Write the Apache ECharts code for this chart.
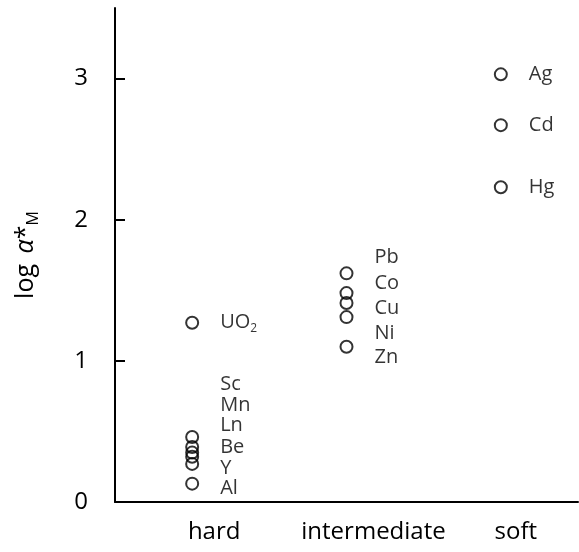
<!DOCTYPE html>
<html>
<head>
<meta charset="utf-8">
<script src="https://cdn.jsdelivr.net/npm/echarts@6/dist/echarts.min.js"></script>
<style>
  html, body { margin: 0; padding: 0; background: #fff; }
  #chart { width: 579px; height: 552px; }
</style>
</head>
<body>
<div id="chart"></div>
<script>
// Metal ion classes on the x axis
const categories = ['hard', 'intermediate', 'soft'];

// log α*M per metal, grouped by class
const hardNames = ['UO2', 'Sc', 'Mn', 'Ln', 'Be', 'Y', 'Al'];
const hardValues = [1.27, 0.46, 0.39, 0.35, 0.32, 0.27, 0.13];

const intermediateNames = ['Pb', 'Co', 'Cu', 'Ni', 'Zn'];
const intermediateValues = [1.62, 1.48, 1.41, 1.31, 1.10];

const softNames = ['Ag', 'Cd', 'Hg'];
const softValues = [3.03, 2.67, 2.23];

const yTickLabels = [0, 1, 2, 3];

// Vertical nudges (px) so crowded name labels stack into a readable column
const labelNudge = {
  Sc: -53, Mn: -42, Ln: -27, Be: -10, Y: 4, Al: 5,
  Pb: -16, Co: -10, Cu: 5, Ni: 16, Zn: 11
};
// Horizontal shift (px) of each class caption under the axis
const captionShift = { hard: 22, intermediate: 27, soft: 15 };

const FONT = '"Open Sans", "Noto Sans", sans-serif';
const INK = '#000';

function groupPoints(catIndex, names, values) {
  return names.map((name, i) => ({
    name: name,
    value: [catIndex, values[i]],
    label: { offset: [0, labelNudge[name] || 0] }
  }));
}

const points = []
  .concat(groupPoints(0, hardNames, hardValues))
  .concat(groupPoints(1, intermediateNames, intermediateValues))
  .concat(groupPoints(2, softNames, softValues));

const chart = echarts.init(document.getElementById('chart'), null, { renderer: 'canvas' });

chart.setOption({
  animation: false,
  backgroundColor: '#fff',
  grid: { left: 115, right: 1, top: 8, bottom: 50, containLabel: false },
  xAxis: {
    type: 'category',
    data: categories.map(c => ({
      value: c,
      textStyle: { padding: [0, 0, 0, 2 * captionShift[c]] }
    })),
    boundaryGap: true,
    axisLine: { show: true, lineStyle: { color: '#000', width: 2 } },
    axisTick: { show: false },
    splitLine: { show: false },
    axisLabel: {
      interval: 0, hideOverlap: false,
      margin: 18, fontSize: 24, fontFamily: FONT, color: INK
    }
  },
  yAxis: {
    type: 'value',
    min: 0,
    max: 3.5,
    axisLine: { show: true, lineStyle: { color: '#000', width: 2 } },
    axisTick: {
      show: true, inside: true, length: 10,
      customValues: [1, 2, 3],
      lineStyle: { color: '#000', width: 2 }
    },
    splitLine: { show: false },
    axisLabel: {
      customValues: yTickLabels,
      margin: 27, fontSize: 24, fontFamily: FONT, color: INK
    },
    name: '{a|log }{b|α}{c|*}{m|M}',
    nameLocation: 'middle',
    nameRotate: 90,
    nameGap: 74,
    nameTextStyle: {
      fontFamily: FONT,
      color: INK,
      rich: {
        a: { fontSize: 25, lineHeight: 30, fontFamily: FONT, color: INK, padding: [0, 4, 0, 0] },
        b: { fontSize: 25, lineHeight: 30, fontStyle: 'italic', fontFamily: FONT, color: INK },
        c: { fontSize: 25, lineHeight: 30, fontFamily: FONT, color: INK },
        m: { fontSize: 16, lineHeight: 14, verticalAlign: 'bottom', fontFamily: FONT, color: INK }
      }
    }
  },
  series: [{
    type: 'scatter',
    data: points,
    symbol: 'circle',
    symbolSize: 12,
    itemStyle: { color: 'rgba(0,0,0,0)', borderColor: '#000', borderWidth: 2 },
    label: {
      show: true,
      position: 'right',
      distance: 21,
      fontSize: 20,
      fontFamily: FONT,
      color: INK,
      formatter: p => p.name === 'UO2' ? '{t|UO}{s|2}' : p.name,
      rich: {
        t: { fontSize: 20, lineHeight: 24, fontFamily: FONT, color: INK },
        s: { fontSize: 12, lineHeight: 8, verticalAlign: 'bottom', fontFamily: FONT, color: INK }
      }
    },
    emphasis: { disabled: true }
  }]
});
</script>
</body>
</html>
